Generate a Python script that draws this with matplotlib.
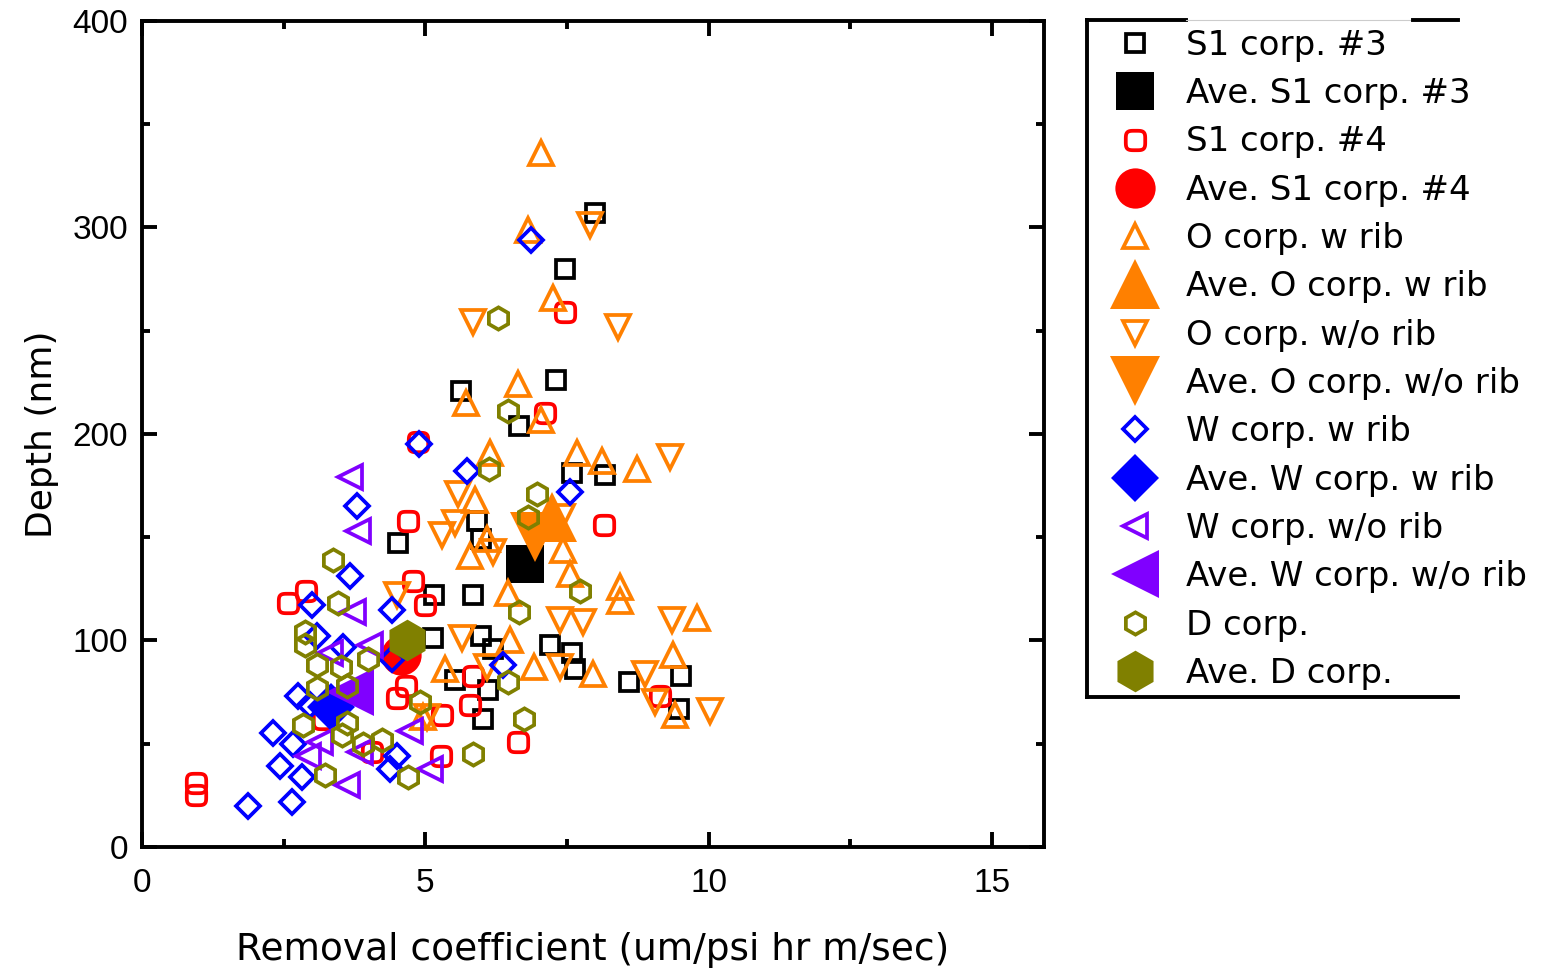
import numpy as np
import matplotlib
matplotlib.use("Agg")
import matplotlib.pyplot as plt
from matplotlib.path import Path
from matplotlib.lines import Line2D

# S1 corp. #3
s1_3_x = [7.99, 7.46, 5.63, 7.31, 6.65, 7.59, 8.17, 4.52, 5.91, 5.98, 5.15, 5.84, 5.98, 5.14,
          7.20, 7.59, 7.64, 5.52, 6.11, 6.02, 8.59, 9.51, 9.47, 6.19]
s1_3_y = [307, 280, 221, 226, 204, 181, 180, 147, 158, 149, 122, 122, 102, 101,
          98, 94, 86, 81, 76, 62, 80, 83, 67, 96]
# S1 corp. #4
s1_4_x = [7.46, 7.11, 4.87, 4.69, 8.15, 2.89, 2.58, 4.78, 4.99, 5.84, 5.79, 4.50, 4.66, 6.63,
          5.28, 4.06, 3.19, 0.95, 0.95, 9.14, 5.29]
s1_4_y = [259, 210, 196, 158, 156, 124, 118, 129, 117, 83, 69, 72, 78, 51,
          44, 46, 62, 31, 25, 73, 64]
# O corp. w rib
o_rib_x = [7.04, 6.81, 7.25, 5.72, 6.63, 7.04, 6.14, 7.68, 8.12, 8.74, 5.88, 7.43, 5.79, 6.09,
           7.55, 8.43, 8.43, 6.46, 6.49, 5.34, 6.91, 7.96, 9.79, 9.37, 9.41, 4.96]
o_rib_y = [336, 299, 266, 215, 224, 207, 191, 191, 187, 183, 168, 144, 141, 149,
           132, 126, 119, 123, 100, 86, 87, 84, 111, 93, 64, 63]
# O corp. w/o rib
o_norib_x = [7.91, 5.84, 8.40, 9.32, 5.58, 5.52, 5.29, 6.19, 7.41, 5.64, 6.09, 7.37, 7.37, 7.78,
             9.35, 8.88, 9.06, 10.02, 5.03, 4.50]
o_norib_y = [301, 254, 252, 189, 171, 157, 151, 143, 160, 101, 87, 87, 110, 109,
             110, 84, 70, 66, 63, 122]
# W corp. w rib
w_rib_x = [6.86, 4.89, 5.73, 7.55, 3.79, 3.67, 3.00, 4.41, 3.09, 6.37, 3.55, 4.41, 2.75, 2.96,
           2.31, 2.66, 2.44, 2.83, 1.87, 2.65, 4.50, 4.37]
w_rib_y = [294, 195, 182, 172, 165, 131, 117, 115, 102, 88, 97, 91, 73, 69,
           55, 50, 39, 34, 20, 22, 44, 38]
# W corp. w/o rib
w_norib_x = [3.67, 3.81, 3.72, 4.02, 3.32, 2.93, 3.62, 4.73, 5.08, 3.85, 3.14]
w_norib_y = [179, 153, 114, 98, 94, 44, 30, 56, 38, 46, 51]
# D corp.
d_x = [6.28, 6.46, 6.12, 6.97, 6.81, 7.73, 6.65, 3.37, 3.46, 2.88, 2.88, 3.08, 3.52, 3.99,
       3.08, 3.62, 2.84, 3.62, 3.53, 3.90, 4.24, 3.23, 4.69, 4.91, 5.84, 6.74, 6.46]
d_y = [256, 211, 183, 171, 160, 124, 114, 139, 118, 104, 98, 88, 87, 91,
       77, 78, 59, 60, 54, 50, 52, 35, 34, 70, 45, 62, 80]

# averages (x, y)
ave_s1_3 = (6.76, 137)
ave_s1_4 = (4.57, 93)
ave_o_rib = (7.24, 160)
ave_o_norib = (6.93, 150)
ave_w_rib = (3.34, 68)
ave_w_norib = (3.67, 75)
ave_d = (4.68, 100)

BLACK = "#000000"
RED = "#ff0000"
ORANGE = "#ff8000"
BLUE = "#0000ff"
PURPLE = "#8000ff"
OLIVE = "#808000"

# rounded square marker for the S1 #4 series
t = np.linspace(0, 2 * np.pi, 80)
c, s = np.cos(t), np.sin(t)
rx = np.sign(c) * np.abs(c) ** 0.5
ry = np.sign(s) * np.abs(s) ** 0.5
rsq = Path(np.column_stack([rx, ry]))

plt.rcParams["font.family"] = "DejaVu Sans"
fig = plt.figure(figsize=(15.47, 9.71), dpi=100)
ax = fig.add_axes([0.0918, 0.1277, 0.5831, 0.8507])

mew = 2.7
small = dict(ls="none", mfc="none", mew=mew)
big = dict(ls="none", mew=0)

ax.plot(s1_3_x, s1_3_y, marker="s", ms=12.5, mec=BLACK, label="S1 corp. #3", **small)
ax.plot([ave_s1_3[0]], [ave_s1_3[1]], marker="s", ms=27, mfc=BLACK, label="Ave. S1 corp. #3", **big)
ax.plot(s1_4_x, s1_4_y, marker=rsq, ms=14, mec=RED, label="S1 corp. #4", **small)
ax.plot([ave_s1_4[0]], [ave_s1_4[1]], marker="o", ms=29, mfc=RED, label="Ave. S1 corp. #4", **big)
ax.plot(o_rib_x, o_rib_y, marker="^", ms=17, mec=ORANGE, label="O corp. w rib", **small)
ax.plot([ave_o_rib[0]], [ave_o_rib[1]], marker="^", ms=36, mfc=ORANGE, label="Ave. O corp. w rib", **big)
ax.plot(o_norib_x, o_norib_y, marker="v", ms=17, mec=ORANGE, label="O corp. w/o rib", **small)
ax.plot([ave_o_norib[0]], [ave_o_norib[1]], marker="v", ms=36, mfc=ORANGE, label="Ave. O corp. w/o rib", **big)
ax.plot(w_rib_x, w_rib_y, marker="D", ms=12, mec=BLUE, label="W corp. w rib", **small)
ax.plot([ave_w_rib[0]], [ave_w_rib[1]], marker="D", ms=24, mfc=BLUE, label="Ave. W corp. w rib", **big)
ax.plot(w_norib_x, w_norib_y, marker="<", ms=17, mec=PURPLE, label="W corp. w/o rib", **small)
ax.plot([ave_w_norib[0]], [ave_w_norib[1]], marker="<", ms=34, mfc=PURPLE, label="Ave. W corp. w/o rib", **big)
ax.plot(d_x, d_y, marker="h", ms=16, mec=OLIVE, label="D corp.", **small)
ax.plot([ave_d[0]], [ave_d[1]], marker="h", ms=30, mfc=OLIVE, label="Ave. D corp.", **big)

ax.set_xlim(0, 15.92)
ax.set_ylim(0, 400)
ax.set_xticks([0, 5, 10, 15])
ax.set_xticks([2.5, 7.5, 12.5], minor=True)
ax.set_yticks([0, 100, 200, 300, 400])
ax.set_yticks([50, 150, 250, 350], minor=True)
ax.tick_params(which="both", direction="in", top=True, right=True, width=2.8)
ax.tick_params(which="major", length=11)
ax.tick_params(which="minor", length=6)
ax.tick_params(axis="x", pad=15)
ax.tick_params(axis="y", pad=10)
for lab in ax.get_xticklabels() + ax.get_yticklabels():
    lab.set_fontfamily("Liberation Sans")
    lab.set_fontsize(24)
for sp in ax.spines.values():
    sp.set_linewidth(2.8)

ax.set_xlabel("Removal coefficient (um/psi hr m/sec)", fontsize=27, labelpad=24)
ax.set_ylabel("Depth (nm)", fontsize=26, labelpad=10)

leg = fig.legend(loc="upper left", bbox_to_anchor=(1101 / 1547, 1 - 22 / 971), frameon=False,
                 fontsize=24.5, handlelength=1.6, handletextpad=0.69, labelspacing=0.45,
                 borderaxespad=0, borderpad=0.2)

# legend border: left, bottom and top edges only
lw = 2.8
x0, x1 = 1087 / 1547, 1458 / 1547
y_top, y_bot = 1 - 20 / 971, 1 - 697 / 971
fig.add_artist(Line2D([x0, x0], [y_top, y_bot], color="k", lw=lw))
fig.add_artist(Line2D([x0, x1], [y_bot, y_bot], color="k", lw=lw))
fig.add_artist(Line2D([x0, 1186 / 1547], [y_top, y_top], color="k", lw=lw))
fig.add_artist(Line2D([1186 / 1547, 1413 / 1547], [y_top, y_top], color="#cccccc", lw=0.8))
fig.add_artist(Line2D([1413 / 1547, x1], [y_top, y_top], color="k", lw=lw))

fig.savefig("out.png", dpi=100)
